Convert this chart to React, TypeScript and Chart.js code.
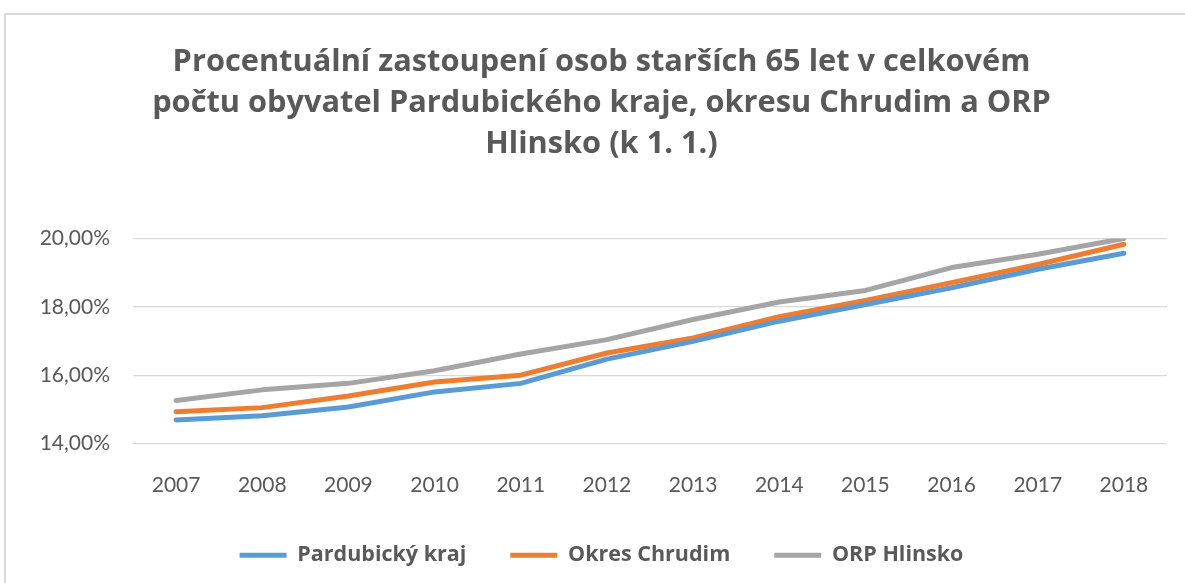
import React, { useEffect, useRef } from "react";
import { Chart, registerables } from "chart.js";

Chart.register(...registerables);

const years = ["2007", "2008", "2009", "2010", "2011", "2012", "2013", "2014", "2015", "2016", "2017", "2018"];
const pardubickyKraj = [14.69, 14.81, 15.07, 15.51, 15.76, 16.47, 16.99, 17.58, 18.07, 18.56, 19.10, 19.57];
const okresChrudim = [14.93, 15.05, 15.39, 15.80, 16.00, 16.65, 17.09, 17.71, 18.19, 18.71, 19.24, 19.83];
const orpHlinsko = [15.26, 15.57, 15.76, 16.13, 16.62, 17.04, 17.63, 18.14, 18.48, 19.15, 19.54, 20.0];
const seriesNames = ["Pardubický kraj", "Okres Chrudim", "ORP Hlinsko"];
const titleLines = [
  "Procentuální zastoupení osob starších 65 let v celkovém",
  "počtu obyvatel Pardubického kraje, okresu Chrudim a ORP",
  "Hlinsko (k 1. 1.)",
];
const yMin = 14;
const yMax = 20;
const yStep = 2;

const TEXT = "#595959";
const TICK_FONT = "Lato, 'Open Sans', sans-serif";
const BOLD_FONT = "'Open Sans', Lato, sans-serif";

function fitSize(text: string, weight: string, family: string, target: number): number {
  const ctx = document.createElement("canvas").getContext("2d");
  if (!ctx) return 20;
  ctx.font = `${weight} 100px ${family}`;
  const w = ctx.measureText(text).width;
  return w > 0 ? (100 * target) / w : 20;
}

export default function App() {
  const canvasRef = useRef<HTMLCanvasElement | null>(null);

  useEffect(() => {
    const canvas = canvasRef.current;
    if (!canvas) return;
    const titleSize = fitSize(titleLines[0], "bold", BOLD_FONT, 858);
    const legendSize = fitSize(seriesNames[0], "bold", BOLD_FONT, 169);
    const mk = (label: string, data: number[], color: string) => ({
      label,
      data,
      borderColor: color,
      backgroundColor: color,
      borderWidth: 5,
      borderCapStyle: "round" as const,
      borderJoinStyle: "round" as const,
      pointRadius: 0,
      pointHoverRadius: 0,
      tension: 0,
      fill: false,
    });
    const chart = new Chart(canvas, {
      type: "line",
      data: {
        labels: years,
        datasets: [
          mk(seriesNames[0], pardubickyKraj, "#5B9BD5"),
          mk(seriesNames[1], okresChrudim, "#ED7D31"),
          mk(seriesNames[2], orpHlinsko, "#A5A5A5"),
        ],
      },
      options: {
        animation: false,
        responsive: false,
        maintainAspectRatio: false,
        layout: { padding: { left: 36, right: 18, top: 0, bottom: 7 } },
        plugins: {
          title: {
            display: true,
            text: titleLines,
            color: TEXT,
            font: { family: BOLD_FONT, size: titleSize, weight: "bold", lineHeight: "41px" },
            padding: { top: 41.5, bottom: 74 },
          },
          legend: {
            display: true,
            position: "bottom",
            labels: {
              color: TEXT,
              font: { family: BOLD_FONT, size: legendSize, weight: "bold" },
              usePointStyle: true,
              pointStyle: "line",
              pointStyleWidth: 47,
              padding: 44,
            },
          },
          tooltip: { enabled: false },
        },
        scales: {
          x: {
            type: "category",
            offset: true,
            grid: { display: false, drawTicks: false },
            border: { display: false },
            ticks: { color: TEXT, font: { family: TICK_FONT, size: 21 }, padding: 29, maxRotation: 0 },
            afterFit: (s: any) => {
              s.height = 57;
            },
          },
          y: {
            min: yMin,
            max: yMax,
            grid: { color: "#D9D9D9", lineWidth: 1.3, drawTicks: false },
            border: { display: false },
            ticks: {
              stepSize: yStep,
              color: TEXT,
              font: { family: TICK_FONT, size: 21 },
              padding: 23,
              callback: (v: any) => Number(v).toFixed(2).replace(".", ",") + "%",
            },
            afterFit: (s: any) => {
              s.width = 97;
            },
          },
        },
      },
    });
    return () => chart.destroy();
  }, []);

  return (
    <div style={{ position: "fixed", left: 0, top: 0, width: 1185, height: 583, overflow: "hidden", background: "#fff" }}>
      <div
        style={{
          position: "absolute",
          left: 4,
          top: 13,
          width: 1200,
          height: 600,
          border: "2px solid #D9D9D9",
          boxSizing: "border-box",
        }}
      />
      <canvas ref={canvasRef} width={1185} height={583} style={{ position: "absolute", left: 0, top: 0, width: 1185, height: 583 }} />
    </div>
  );
}
